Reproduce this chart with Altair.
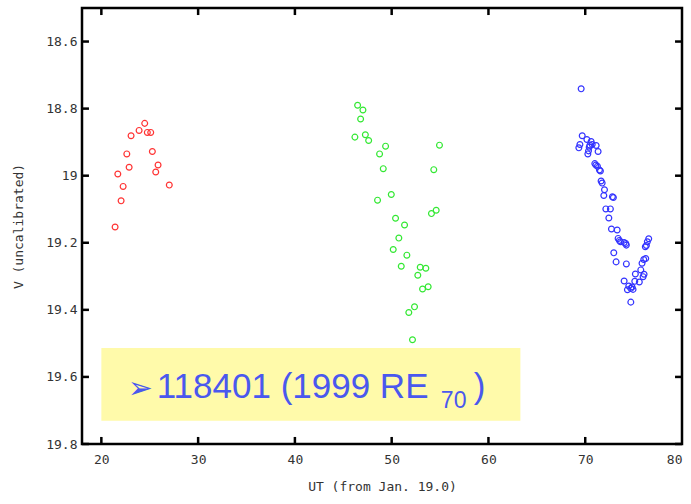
import altair as alt
import pandas as pd

# ---- data ----
red_x = [24.48, 23.90, 23.07, 24.75, 25.10, 25.27, 22.63, 25.86, 22.87, 25.62, 21.70, 27.02, 22.25, 22.04, 21.42]
red_y = [18.844, 18.865, 18.881, 18.871, 18.871, 18.928, 18.935, 18.968, 18.975, 18.989, 18.995, 19.028, 19.032, 19.075, 19.153]

green_x = [46.48, 47.03, 46.79, 46.20, 47.28, 47.62, 49.37, 54.94, 48.75, 49.13, 54.35, 49.96, 48.54, 54.60, 54.11,
           50.40, 51.33, 50.74, 50.16, 51.57, 50.99, 52.95, 53.53, 52.70, 53.19, 53.77, 52.36, 51.77, 52.15]
green_y = [18.790, 18.804, 18.831, 18.885, 18.878, 18.895, 18.912, 18.909, 18.935, 18.979, 18.982, 19.056, 19.073, 19.103, 19.113,
           19.127, 19.147, 19.186, 19.220, 19.237, 19.270, 19.273, 19.276, 19.297, 19.338, 19.331, 19.391, 19.408, 19.489]

blue_x = [69.58, 69.69, 70.17, 70.61, 69.45, 69.34, 70.48, 70.41, 71.13, 70.72, 70.34, 70.27, 71.33, 70.99, 71.10,
          71.26, 71.47, 71.57, 71.64, 71.75, 71.99, 71.92, 72.81, 72.91, 72.13, 72.60, 72.44, 72.71, 73.30, 73.40,
          73.53, 73.64, 74.02, 74.19, 74.25, 72.95, 73.19, 74.25, 76.56, 76.42, 76.32, 76.21, 76.25, 76.05, 75.87,
          75.74, 76.08, 75.98, 75.18, 74.02, 75.12, 75.59, 74.50, 74.84, 74.71, 74.36, 74.94, 74.71]
blue_y = [18.741, 18.881, 18.892, 18.898, 18.907, 18.917, 18.909, 18.915, 18.910, 18.907, 18.926, 18.935, 18.928, 18.964, 18.968,
          18.972, 18.983, 18.986, 19.016, 19.022, 19.042, 19.059, 19.063, 19.065, 19.099, 19.099, 19.126, 19.159, 19.162, 19.187,
          19.193, 19.197, 19.199, 19.202, 19.207, 19.230, 19.257, 19.263, 19.188, 19.197, 19.208, 19.212, 19.247, 19.250, 19.261,
          19.281, 19.294, 19.301, 19.293, 19.314, 19.315, 19.317, 19.329, 19.332, 19.336, 19.340, 19.339, 19.377]

x_ticks = [20, 30, 40, 50, 60, 70, 80]
y_ticks = [18.6, 18.8, 19.0, 19.2, 19.4, 19.6, 19.8]

# annotation box (data coordinates)
box_x = [20.0, 63.3]
box_y = [19.514, 19.731]
label_arrow = "➢"
label_main = "118401 (1999 RE"
label_sub = "70"
label_close = ")"

XDOM = [18, 80]
YDOM = [18.5, 19.8]
MONO = "DejaVu Sans Mono"
INK = "#333333"
# tick length expressed in data units (about 7 px on the 602 x 437 plot)
TICK_DX = 0.72
TICK_DY = 0.021

xs = alt.Scale(domain=XDOM, nice=False, zero=False)
ys = alt.Scale(domain=YDOM, reverse=True, nice=False, zero=False)

df = pd.DataFrame({
    "x": red_x + green_x + blue_x,
    "y": red_y + green_y + blue_y,
    "s": ["r"] * len(red_x) + ["g"] * len(green_x) + ["b"] * len(blue_x),
})

xaxis = alt.Axis(values=x_ticks, ticks=False, domain=False, grid=False, labelFont=MONO, labelFontSize=13,
                 labelColor=INK, labelPadding=9, title="UT (from Jan. 19.0)", titleFont=MONO,
                 titleFontSize=13, titleFontWeight="normal", titleColor=INK, titlePadding=14)
yaxis = alt.Axis(values=y_ticks, ticks=False, domain=False, grid=False, format="~f", labelFont=MONO,
                 labelFontSize=13, labelColor=INK, labelPadding=5, title="V (uncalibrated)", titleFont=MONO,
                 titleFontSize=13, titleFontWeight="normal", titleColor=INK, titlePadding=20)

box = alt.Chart(pd.DataFrame({"x": [box_x[0]], "x2": [box_x[1]], "y": [box_y[0]], "y2": [box_y[1]]})).mark_rect(
    color="#fffaaa").encode(
    x=alt.X("x:Q", scale=xs, axis=xaxis), x2="x2:Q",
    y=alt.Y("y:Q", scale=ys, axis=yaxis), y2="y2:Q")

cscale = alt.Scale(domain=["r", "g", "b"], range=["#ff3333", "#33e833", "#3333ff"])

pts = alt.Chart(df).mark_point(shape="circle", filled=False, size=34, strokeWidth=1.2, opacity=1).encode(
    x=alt.X("x:Q", scale=xs),
    y=alt.Y("y:Q", scale=ys),
    color=alt.Color("s:N", scale=cscale, legend=None))

txt_df = pd.DataFrame({
    "x": [22.74, 25.72, 55.08, 58.48],
    "y": [19.663, 19.663, 19.693, 19.663],
    "t": [label_arrow, label_main, label_sub, label_close],
})
txt_fs = [30, 35, 23, 35]
txt_font = ["DejaVu Sans", "Liberation Sans", "Liberation Sans", "Liberation Sans"]
txt_layers = []
for i in range(len(txt_df)):
    row = txt_df.iloc[[i]].reset_index(drop=True)
    txt_layers.append(alt.Chart(row).mark_text(align="left", baseline="alphabetic", color="#4a58ee",
                                               fontSize=txt_fs[i], font=txt_font[i]).encode(
        x=alt.X("x:Q", scale=xs), y=alt.Y("y:Q", scale=ys), text="t:N"))

# inward ticks on the four sides, drawn as short thick rules
n_y = len(y_ticks)
n_x = len(x_ticks) - 1
ty = pd.DataFrame({"tv": y_ticks * 2,
                   "ta": [XDOM[0]] * n_y + [XDOM[1] - TICK_DX] * n_y,
                   "tb": [XDOM[0] + TICK_DX] * n_y + [XDOM[1]] * n_y})
tx = pd.DataFrame({"uv": x_ticks[:-1] * 2,
                   "ua": [YDOM[1]] * n_x + [YDOM[0]] * n_x,
                   "ub": [YDOM[1] - TICK_DY] * n_x + [YDOM[0] + TICK_DY] * n_x})
tyl = alt.Chart(ty).mark_rule(color="#000000", strokeWidth=2.5).encode(
    y=alt.Y("tv:Q", scale=ys), x=alt.X("ta:Q", scale=xs), x2="tb:Q")
txl = alt.Chart(tx).mark_rule(color="#000000", strokeWidth=2.5).encode(
    x=alt.X("uv:Q", scale=xs), y=alt.Y("ua:Q", scale=ys), y2="ub:Q")

chart = alt.layer(box, pts, *txt_layers, tyl, txl).properties(
    width=691, height=504,
    autosize=alt.AutoSizeParams(type="fit", contains="padding"),
    padding={"left": 12, "top": 6, "right": 7, "bottom": 11},
).configure_view(stroke="#000000", strokeWidth=2.5, strokeOpacity=1)

chart.save("out.html", embed_options={"renderer": "svg", "actions": False})
